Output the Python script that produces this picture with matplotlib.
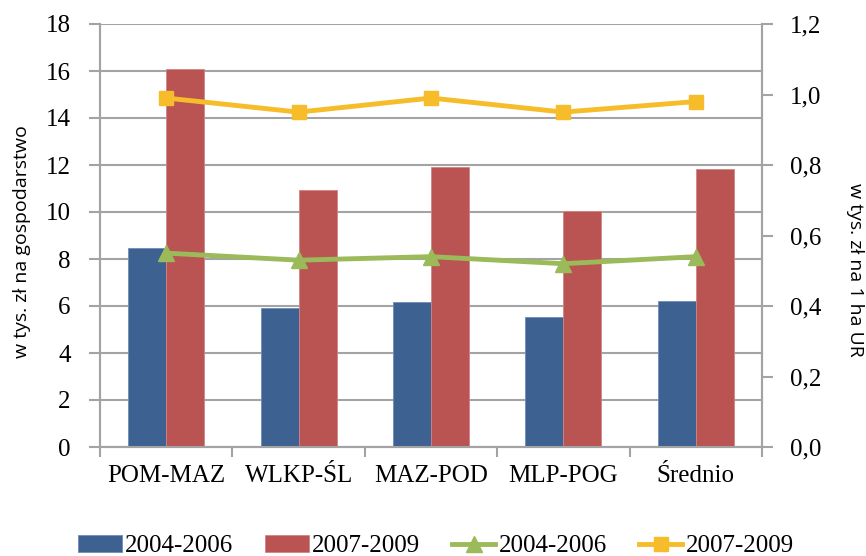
import matplotlib
matplotlib.use("Agg")
import matplotlib.pyplot as plt
import numpy as np
from matplotlib.ticker import FuncFormatter, FixedLocator

categories = ["POM-MAZ", "WLKP-ŚL", "MAZ-POD", "MLP-POG", "Średnio"]
bars_2004_2006 = [8.45, 5.92, 6.18, 5.53, 6.20]
bars_2007_2009 = [16.07, 10.94, 11.90, 10.04, 11.84]
line_2004_2006 = [0.55, 0.53, 0.54, 0.52, 0.54]
line_2007_2009 = [0.99, 0.95, 0.99, 0.95, 0.98]
legend_labels = ["2004-2006", "2007-2009", "2004-2006", "2007-2009"]
left_label = "w tys. zł na gospodarstwo"
right_label = "w tys. zł na 1 ha UR"

c_blue = "#3D6190"
c_red = "#BA5452"
c_green = "#9BBA59"
c_yellow = "#F6BC29"
c_grid = "#A3A3A6"

serif = ["Liberation Serif", "DejaVu Serif"]
sans = ["Open Sans", "DejaVu Sans"]
label_size = 14

fig = plt.figure(figsize=(8.66, 5.56), dpi=100)
ax = fig.add_axes([100/866, 1-447/556, 662/866, 423/556])
ax2 = ax.twinx()

x = np.arange(len(categories))
w = 0.287
b1 = ax.bar(x - w/2, bars_2004_2006, w, color=c_blue, edgecolor="#6F8DB5", linewidth=0.6, zorder=3)
b2 = ax.bar(x + w/2, bars_2007_2009, w, color=c_red, edgecolor="#D08584", linewidth=0.6, zorder=3)

l1, = ax2.plot(x, line_2004_2006, color=c_green, lw=3.5, marker="^", ms=12, zorder=4)
l2, = ax2.plot(x, line_2007_2009, color=c_yellow, lw=3.5, marker="s", ms=10, zorder=4)

ax.set_xlim(-0.5, len(categories) - 0.5)
ax.set_ylim(0, 18)
ax.set_yticks(np.arange(0, 19, 2))
ax2.set_ylim(0, 1.2)
ax2.set_yticks(np.arange(0, 1.21, 0.2))
ax2.yaxis.set_major_formatter(FuncFormatter(lambda v, p: f"{v:.1f}".replace(".", ",")))

ax.yaxis.grid(True, color=c_grid, lw=1.5, zorder=0)
ax.set_axisbelow(True)

ax.set_xticks(x)
ax.set_xticklabels(categories, fontfamily=serif, fontsize=18)
ax.xaxis.set_minor_locator(FixedLocator(np.arange(-0.5, len(categories), 1.0)))
ax.tick_params(axis="x", which="major", length=0, pad=13)
ax.tick_params(axis="x", which="minor", length=7, width=1.5, color=c_grid, direction="out")

ax.tick_params(axis="y", length=8, width=1.5, color=c_grid, pad=13, labelsize=18)
ax2.tick_params(axis="y", length=8, width=1.5, color=c_grid, pad=12, labelsize=18)
for lab in ax.get_yticklabels() + ax2.get_yticklabels():
    lab.set_fontfamily(serif)

for a in (ax, ax2):
    a.spines["top"].set_visible(False)
    for s in ("left", "right", "bottom"):
        a.spines[s].set_color(c_grid)
        a.spines[s].set_linewidth(1.5)

fig.text(22/866, 1-242/556, left_label, rotation=90, ha="center", va="center",
         fontfamily=sans, fontsize=label_size)
fig.text(855/866, 1-270/556, right_label, rotation=270, ha="center", va="center",
         fontfamily=sans, fontsize=label_size)

fig.legend([b1, b2, l1, l2], legend_labels, loc="center", ncol=4,
           bbox_to_anchor=(436/866, 1-546/556), frameon=False,
           prop={"family": serif, "size": 18}, handlelength=1.75,
           handletextpad=0.15, columnspacing=1.25, borderpad=0)

fig.savefig("out.png", dpi=100)
